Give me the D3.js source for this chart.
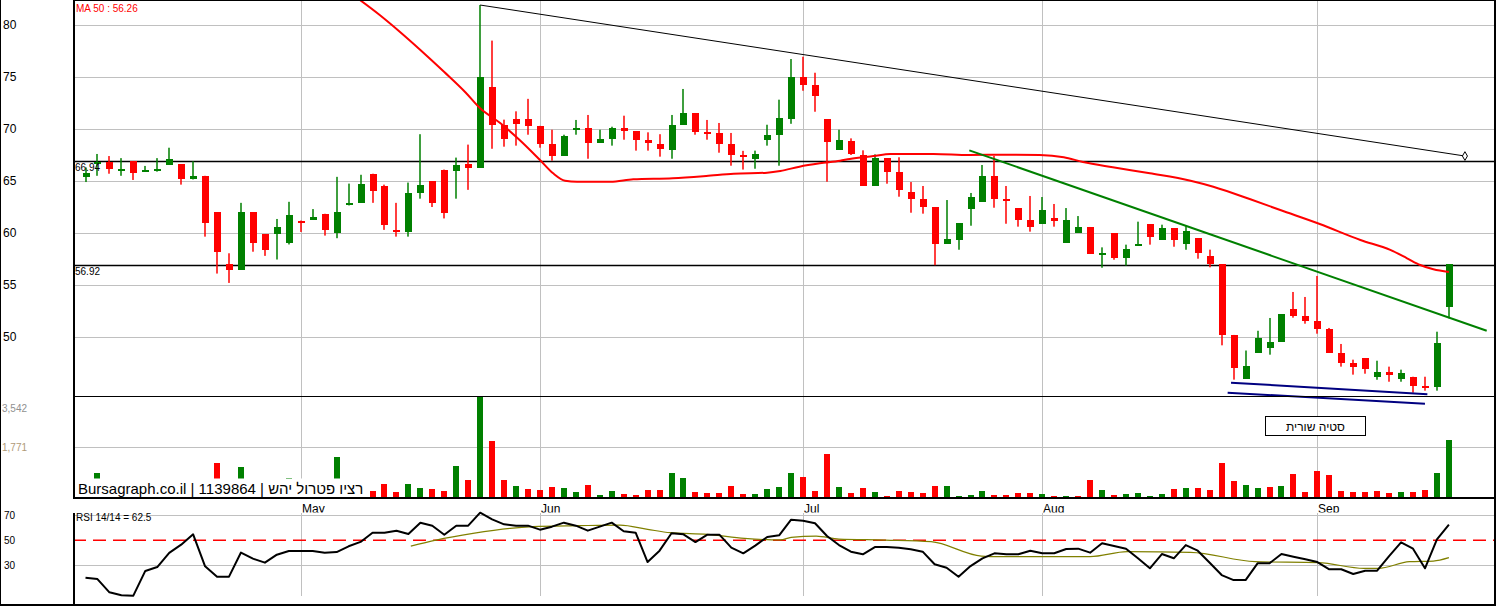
<!DOCTYPE html>
<html><head><meta charset="utf-8">
<script src="https://cdn.jsdelivr.net/npm/d3@7"></script>
<style>
html,body{margin:0;padding:0;background:#fff;}
svg{display:block;font-family:"Liberation Sans",Arial,sans-serif;}
</style></head><body>
<svg id="c" width="1496" height="606"></svg>
<script>
// ---------- DATA ----------
const opens  = [65.4,66.7,66.85,66.05,66.9,65.9,66.1,66.57,66.6,65.15,65.5,62.0,57.0,56.45,62.0,59.9,59.93,59.07,61.2,61.25,61.85,60.0,62.65,62.9,65.7,64.55,60.25,60.13,63.88,65.0,66.1,66.0,66.67,66.28,74.0,70.4,70.96,70.96,70.3,68.56,67.43,70.03,70.1,68.68,69.07,70.13,69.8,68.97,68.6,68.0,70.41,71.54,69.74,69.62,68.56,67.53,67.14,68.97,69.45,71.0,75.0,74.23,70.96,68.0,68.85,67.47,64.55,67.2,65.84,63.94,63.24,62.5,58.97,59.36,62.34,63.01,65.48,63.27,62.4,61.25,60.89,61.4,59.07,60.03,60.58,57.91,60.0,57.63,58.85,60.86,59.36,60.48,58.97,59.52,57.8,57.0,50.2,46.0,48.5,48.97,49.55,52.7,52.0,51.54,50.77,48.46,47.53,47.98,46.18,46.63,45.99,46.18,45.25,45.23,52.9];
const highs  = [66.3,67.6,67.4,67.2,66.9,66.45,67.2,68.2,66.6,66.9,65.5,62.0,58.05,62.9,62.0,59.9,61.35,63.0,61.2,62.3,61.85,65.4,64.75,65.6,65.7,64.65,62.9,64.85,69.5,65.0,66.1,67.25,68.5,81.92,78.5,70.9,71.7,72.9,70.3,69.93,69.45,70.87,71.35,69.93,70.22,71.28,69.8,69.68,69.5,71.35,73.85,71.54,70.87,70.58,69.62,67.9,67.92,70.41,72.82,76.73,76.95,75.41,70.96,69.93,69.1,67.95,67.56,67.2,67.28,64.9,64.52,62.5,63.17,60.96,63.85,66.54,67.4,64.52,62.4,63.56,63.46,62.79,62.4,61.63,60.58,58.62,60.0,58.88,61.09,60.86,60.8,60.48,60.7,59.52,58.4,57.0,50.2,48.7,50.6,51.83,52.2,54.33,53.85,55.87,50.87,49.33,47.82,47.98,47.72,47.15,46.86,46.18,46.18,50.51,57.0];
const lows   = [64.9,65.5,65.7,65.5,65.1,65.9,65.9,66.55,64.65,65.15,59.65,56.1,55.2,56.45,58.2,57.8,57.45,58.9,60.1,61.25,59.75,59.5,62.65,62.9,62.9,60.3,59.65,59.65,63.3,62.5,61.4,63.3,64.15,66.28,68.1,68.3,68.4,69.45,68.2,66.95,67.43,69.45,67.14,68.68,68.4,68.97,67.92,67.92,67.34,67.14,70.41,69.45,68.97,67.72,66.47,66.1,66.18,68.4,66.47,70.5,73.68,71.66,64.93,68.0,67.5,64.55,64.55,64.74,63.49,61.95,61.86,56.9,58.97,58.39,60.7,63.01,62.43,60.89,60.61,60.13,60.89,60.61,59.07,60.03,57.98,56.66,57.43,56.86,58.85,58.88,59.36,58.68,58.39,57.53,56.7,49.2,45.9,46.0,48.5,48.3,49.55,51.86,51.28,50.32,48.49,47.15,46.38,46.47,45.89,45.7,45.7,44.65,44.84,44.84,51.8];
const closes = [65.75,66.86,66.2,66.15,65.8,66.05,66.15,67.12,65.15,65.5,61.0,58.2,56.45,62.0,59.0,58.4,60.58,61.73,61.0,61.55,60.3,62.05,62.85,64.75,64.0,60.8,60.13,63.88,64.64,62.9,61.95,66.57,66.28,75.0,70.4,69.07,70.5,70.32,68.6,67.43,69.36,70.13,68.7,69.04,70.13,69.84,68.97,68.68,68.1,70.38,71.54,69.74,69.65,68.59,67.53,67.34,67.63,69.45,71.09,75.0,74.23,73.2,68.75,68.9,67.56,64.55,67.21,65.9,64.16,63.3,62.53,58.97,59.42,60.96,63.46,65.48,63.3,63.11,61.28,60.61,62.21,61.2,61.28,60.58,57.98,58.05,57.63,58.49,58.97,59.64,60.48,59.36,60.23,58.11,57.05,50.2,47.05,47.2,49.9,49.55,52.2,52.05,51.57,50.8,48.49,47.53,47.15,46.96,46.63,46.38,46.54,45.32,45.2,49.45,57.0];
const volumes = [300,850,250,200,300,150,200,400,350,250,500,1215,550,1074,450,350,300,673,250,200,350,1428,300,450,212,472,177,460,319,283,212,1098,602,3542,1984,602,390,283,248,354,319,177,425,71,212,106,71,248,248,850,673,177,142,142,390,106,106,283,354,856,708,212,1535,354,142,319,177,35,212,177,142,390,390,35,71,212,71,71,142,142,106,35,35,35,602,248,71,106,142,35,106,283,319,319,248,1204,567,425,307,354,390,815,177,921,779,212,177,177,212,142,177,177,248,850,2020];
const rsi = [20.1,19.0,8.4,6.0,5.7,25.5,28.6,40.0,46.5,54.8,29.2,20.9,20.9,40.2,35.3,32.1,38.5,41.5,41.5,41.5,40.1,40.6,45.2,48.7,56.1,56.1,57.7,55.0,64.1,61.7,54.5,61.7,61.7,72.1,66.8,62.8,61.7,61.7,58.5,60.9,64.1,61.7,57.7,60.9,64.1,57.2,56.1,32.6,41.7,55.6,54.8,48.6,54.5,54.5,44.1,39.6,45.7,52.6,54.0,66.5,65.7,63.6,53.4,46.2,40.9,38.8,44.6,44.6,44.1,42.8,40.9,30.8,28.1,20.9,29.4,35.6,39.6,38.8,38.8,41.7,39.6,39.6,43.0,43.3,40.1,47.6,45.4,43.3,35.6,27.6,39.0,35.6,46.2,41.7,32.1,22.2,18.2,18.2,31.6,31.6,39.0,36.9,34.8,32.6,26.8,26.8,23.0,25.7,25.7,37.4,48.4,43.3,27.6,50.8,62.5];
// MA 50 line (index, value)
const maIdx = [22.0,24.6,26.3,28.0,30.0,31.8,33.0,34.7,36.3,38.0,39.1,40.1,41.1,43.9,45.8,49.1,51.9,54.2,57.0,58.1,59.7,61.4,63.1,63.9,65.9,67.3,70.9,73.9,77.0,79.8,81.8,83.4,85.9,89.0,92.4,94.3,97.4,99.9,103.2,106.6,109.1,110.5,111.6,112.7,114.0];
const maVal = [83.2,80.96,79.33,77.6,75.48,73.49,71.99,70.55,68.94,67.02,65.74,65.03,64.93,64.93,65.16,65.26,65.48,65.7,65.8,65.96,66.38,66.7,66.95,67.12,67.4,67.6,67.6,67.5,67.53,67.5,67.28,66.83,66.32,65.74,65.03,64.45,63.24,62.21,60.87,59.33,58.37,57.57,56.92,56.51,56.26];
// RSI moving average (olive)
const rsiMaIdx = [27.2,29.3,32.4,35.5,37.4,41.2,44.7,47.0,48.9,52.0,55.1,58.1,59.0,61.1,63.0,66.9,70.7,74.9,76.4,84.0,87.1,92.4,97.8,103.1,106.9,108.1,110.7,112.7,114.0];
const rsiMaVal = [45.4,50.2,55.6,59.6,60.9,61.7,62.2,58.8,56.1,54.8,51.6,50.3,52.4,53.4,51.0,50.2,48.9,37.4,36.9,36.9,40.9,40.4,32.9,32.1,27.6,27.6,32.9,33.4,36.1];
// drawn lines
const levelValues = [66.94, 56.92];
const blackTrendIdx = [33, 115.34], blackTrendVal = [81.92, 67.4];
const greenTrendIdx = [73.9, 117.16], greenTrendVal = [67.95, 50.6];
const blue1Idx = [95.78, 112.2], blue1Val = [45.61, 44.49];
const blue2Idx = [95.5, 112.0], blue2Val = [44.64, 43.59];
// ticks
const monthLabels = ["May","Jun","Jul","Aug","Sep"];
const monthIdx = [18, 38, 60, 80, 103];
const priceTicks = [50,55,60,65,70,75,80];
const volTicks = [3542, 1771];
const volTickLabels = ["3,542", "1,771"];
const rsiTicks = [70, 50, 30];
const maLabel = "MA 50 : 56.26";
const rsiLabel = "RSI 14/14 = 62.5";
const watermark = "Bursagraph.co.il | 1139864 | רציו פטרול יהש";
const noteText = "סטיה שורית";

// ---------- LAYOUT ----------
const W = 1496, H = 606, L = 73, R = 1495;
const priceTop = 0, priceBot = 396.5, volTop = 397, volBot = 497.5, rsiTop = 513, rsiBot = 604;
const GREEN = "#008000", RED = "#ff0000", GRID = "#c0c0c0";

const svg = d3.select("#c");
const x = d3.scaleLinear().domain([0, 114]).range([85.5, 1448.9]);
const y = d3.scaleLinear().domain([50, 80]).range([337, 25]);
const yv = d3.scaleLinear().domain([0, 3542]).range([497, 397]);
const yr = d3.scaleLinear().domain([0, 70]).range([602.8, 515.3]);

const defs = svg.append("defs");
defs.append("clipPath").attr("id","pclip").append("rect").attr("x",L).attr("y",0).attr("width",R-L).attr("height",priceBot);
defs.append("clipPath").attr("id","mclip").append("rect").attr("x",L).attr("y",499).attr("width",R-L).attr("height",13.6);

// ---------- GRID ----------
const g = svg.append("g");
g.selectAll(".hp").data(priceTicks).join("line")
  .attr("x1",L).attr("x2",R).attr("y1",d=>Math.round(y(d))+0.5).attr("y2",d=>Math.round(y(d))+0.5)
  .attr("stroke",GRID);
g.append("line").attr("x1",L).attr("x2",R).attr("y1",Math.round(yv(1771))+0.5).attr("y2",Math.round(yv(1771))+0.5).attr("stroke",GRID);
g.selectAll(".hr").data([70,30]).join("line")
  .attr("x1",L).attr("x2",R).attr("y1",d=>Math.round(yr(d))+0.5).attr("y2",d=>Math.round(yr(d))+0.5).attr("stroke",GRID);
monthIdx.forEach(m=>{
  const xx = Math.round(x(m))+0.5;
  g.append("line").attr("x1",xx).attr("x2",xx).attr("y1",0).attr("y2",volBot).attr("stroke",GRID);
  g.append("line").attr("x1",xx).attr("x2",xx).attr("y1",rsiTop).attr("y2",596).attr("stroke",GRID);
});
// RSI 50 dashed
g.append("line").attr("x1",L).attr("x2",R).attr("y1",yr(50)).attr("y2",yr(50))
  .attr("stroke",RED).attr("stroke-width",1.5).attr("stroke-dasharray","13,7");

// ---------- LEVEL LINES ----------
levelValues.forEach(v=>{
  const yy = Math.round(y(v))+0.5;
  svg.append("line").attr("x1",L).attr("x2",R).attr("y1",yy).attr("y2",yy).attr("stroke","#000").attr("stroke-width",1.5);
});

// ---------- CANDLES ----------
const idx = d3.range(opens.length);
const cg = svg.append("g");
cg.selectAll(".wick").data(idx).join("rect")
  .attr("x",i=>Math.round(x(i))-0.75).attr("width",1.5)
  .attr("y",i=>y(highs[i])).attr("height",i=>Math.max(1,y(lows[i])-y(highs[i])))
  .attr("fill",i=>closes[i]>=opens[i]?GREEN:RED);
cg.selectAll(".body").data(idx).join("rect")
  .attr("x",i=>Math.round(x(i))-3.5).attr("width",7)
  .attr("y",i=>Math.min(y(opens[i]),y(closes[i])))
  .attr("height",i=>Math.max(2,Math.abs(y(opens[i])-y(closes[i]))))
  .attr("fill",i=>closes[i]>=opens[i]?GREEN:RED)
  .attr("shape-rendering","crispEdges");

// ---------- MA50 ----------
svg.append("path").attr("clip-path","url(#pclip)")
  .datum(maIdx.map((d,k)=>[d,maVal[k]]))
  .attr("d",d3.line().x(d=>x(d[0])).y(d=>y(d[1])).curve(d3.curveMonotoneX))
  .attr("fill","none").attr("stroke",RED).attr("stroke-width",2);

// ---------- TREND LINES ----------
function seg(ix, iv, color, w){
  svg.append("line").attr("x1",x(ix[0])).attr("y1",y(iv[0])).attr("x2",x(ix[1])).attr("y2",y(iv[1]))
    .attr("stroke",color).attr("stroke-width",w);
}
seg(blackTrendIdx, blackTrendVal, "#000", 1);
seg(greenTrendIdx, greenTrendVal, GREEN, 2);
seg(blue1Idx, blue1Val, "#000080", 2);
seg(blue2Idx, blue2Val, "#000080", 2);
svg.append("path").attr("d",d3.symbol(d3.symbolDiamond,22)())
  .attr("transform",`translate(${x(blackTrendIdx[1])},${y(blackTrendVal[1])})`)
  .attr("fill","#fff").attr("stroke","#000").attr("stroke-width",1);

// ---------- VOLUME ----------
svg.append("g").selectAll("rect").data(idx).join("rect")
  .attr("x",i=>Math.round(x(i))-3).attr("width",6)
  .attr("y",i=>yv(volumes[i])).attr("height",i=>497-yv(volumes[i]))
  .attr("fill",i=>(i===0||closes[i]>=closes[i-1])?GREEN:RED)
  .attr("shape-rendering","crispEdges");

// watermark
svg.append("rect").attr("x",74).attr("y",478.5).attr("width",292).attr("height",18.5).attr("fill","#fff");
svg.append("text").attr("x",78).attr("y",494).attr("font-size",15).attr("fill","#000").text(watermark);

// note box
svg.append("rect").attr("x",1265.5).attr("y",416.5).attr("width",100).attr("height",19).attr("fill","#fff").attr("stroke","#000").attr("stroke-width",1);
svg.append("text").attr("x",1315.5).attr("y",430.5).attr("text-anchor","middle").attr("font-size",12).attr("fill","#000").text(noteText);

// ---------- RSI ----------
svg.append("path").datum(rsiMaIdx.map((d,k)=>[d,rsiMaVal[k]]))
  .attr("d",d3.line().x(d=>x(d[0])).y(d=>yr(d[1])).curve(d3.curveMonotoneX))
  .attr("fill","none").attr("stroke","#808000").attr("stroke-width",1.2);
svg.append("path").datum(idx)
  .attr("d",d3.line().x(i=>x(i)).y(i=>yr(rsi[i])))
  .attr("fill","none").attr("stroke","#000").attr("stroke-width",2).attr("stroke-linejoin","round");

// ---------- FRAME ----------
const fr = svg.append("g").attr("stroke","#000").attr("shape-rendering","crispEdges");
fr.append("line").attr("x1",0.5).attr("x2",0.5).attr("y1",0).attr("y2",H);
fr.append("line").attr("x1",R).attr("x2",R).attr("y1",0).attr("y2",H).attr("stroke-width",2);
fr.append("line").attr("x1",L+0.5).attr("x2",L+0.5).attr("y1",0).attr("y2",volBot).attr("stroke-width",2);
fr.append("line").attr("x1",L+0.5).attr("x2",L+0.5).attr("y1",rsiTop).attr("y2",H).attr("stroke-width",2);
fr.append("line").attr("x1",L).attr("x2",W).attr("y1",0.5).attr("y2",0.5);
fr.append("line").attr("x1",L).attr("x2",W).attr("y1",priceBot).attr("y2",priceBot);
fr.append("line").attr("x1",L).attr("x2",W).attr("y1",volBot).attr("y2",volBot).attr("stroke-width",2);
fr.append("line").attr("x1",0).attr("x2",W).attr("y1",rsiBot+0.5).attr("y2",rsiBot+0.5).attr("stroke-width",2);

// ---------- LABELS ----------
svg.selectAll(".pl").data(priceTicks).join("text")
  .attr("x",3).attr("y",d=>y(d)).attr("dy","0.36em").attr("font-size",12).attr("fill","#000").text(d=>d);
svg.selectAll(".vl").data(volTicks).join("text")
  .attr("x",2).attr("y",d=>Math.max(yv(d)+0.5, 408)).attr("dy","0.36em").attr("font-size",10)
  .attr("fill",(d,k)=>k===0?"#909090":"#b09a78").text((d,k)=>volTickLabels[k]);
svg.selectAll(".rl").data(rsiTicks).join("text")
  .attr("x",4).attr("y",d=>yr(d)).attr("dy","0.36em").attr("font-size",10).attr("fill","#000").text(d=>d);
svg.selectAll(".ll").data(levelValues).join("text")
  .attr("x",75).attr("y",d=>y(d)+10).attr("font-size",10).attr("fill","#000").text(d=>d.toFixed(2));
svg.append("text").attr("x",76).attr("y",11.5).attr("font-size",10).attr("fill",RED).text(maLabel);
svg.append("text").attr("x",76).attr("y",521).attr("font-size",10).attr("fill","#000").text(rsiLabel);
svg.append("g").attr("clip-path","url(#mclip)").selectAll("text").data(monthIdx).join("text")
  .attr("x",m=>Math.round(x(m))+1).attr("y",512.5).attr("font-size",12).attr("fill","#000")
  .text((m,k)=>monthLabels[k]);
</script>
</body></html>
